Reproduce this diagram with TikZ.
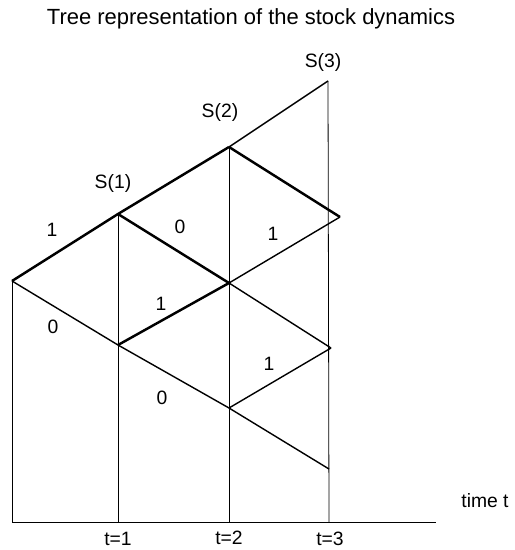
\documentclass[tikz,border=0pt]{standalone}
\usepackage{fontspec}
\setmainfont{Liberation Sans}
\usetikzlibrary{positioning}
\begin{document}
\begin{tikzpicture}[x=0.02cm, y=-0.02cm,
    lbl/.style={font=\fontsize{11}{13}\selectfont, inner sep=0pt},
    boldedge/.style={line width=1.4pt},
    branch/.style={line width=0.8pt},
    guide/.style={line width=0.45pt}]
    \useasboundingbox (0,0) rectangle (514,550);
    % Title
    \node[lbl, font=\fontsize{12.5}{15}\selectfont] (title) at (251,19) {Tree representation of the stock dynamics};
    % Tree vertices
    \coordinate (s0) at (12,281);
    \coordinate (u) at (118,214);
    \coordinate (d) at (118,345);
    \coordinate (uu) at (229,147);
    \coordinate (ud) at (229,283);
    \coordinate (dd) at (229,408);
    \coordinate (uuu) at (328,81);
    \coordinate (uud) at (340,217);
    \coordinate (udd) at (331,348);
    \coordinate (ddd) at (329,469);
    % Time axis
    \coordinate (a0) at (12,522);
    \coordinate (a1) at (118,522);
    \coordinate (a2) at (229,522);
    \coordinate (a3) at (329,522);
    \coordinate (aend) at (436,522);
    \draw[guide] (a0) -- (aend);
    \draw[guide] (s0) -- (a0);
    \draw[guide] (u) -- (a1);
    \draw[guide] (uu) -- (a2);
    \draw[guide] (uuu) -- (a3);
    % Branches
    \draw[boldedge] (s0) -- (u) -- (uu);
    \draw[boldedge] (u) -- (ud);
    \draw[boldedge] (d) -- (ud);
    \draw[boldedge] (uu) -- (uud);
    \draw[branch] (uu) -- (uuu);
    \draw[branch] (s0) -- (d) -- (dd) -- (ddd);
    \draw[branch] (ud) -- (uud);
    \draw[branch] (ud) -- (udd);
    \draw[branch] (dd) -- (udd);
    % Stock labels
    \node[lbl] (S1) at (113,183) {S(1)};
    \node[lbl] (S2) at (220,113) {S(2)};
    \node[lbl] (S3) at (323,63) {S(3)};
    % Move labels
    \node[lbl] (m1) at (52,230) {1};
    \node[lbl] (m2) at (180,227) {0};
    \node[lbl] (m3) at (273,234) {1};
    \node[lbl] (m4) at (53,327) {0};
    \node[lbl] (m5) at (161,304) {1};
    \node[lbl] (m6) at (269,364) {1};
    \node[lbl] (m7) at (162,398) {0};
    % Time labels
    \node[lbl] (t1) at (118,539) {t=1};
    \node[lbl] (t2) at (229,538) {t=2};
    \node[lbl] (t3) at (330,539) {t=3};
    \node[lbl] (tt) at (485,501) {time t};
\end{tikzpicture}
\end{document}
